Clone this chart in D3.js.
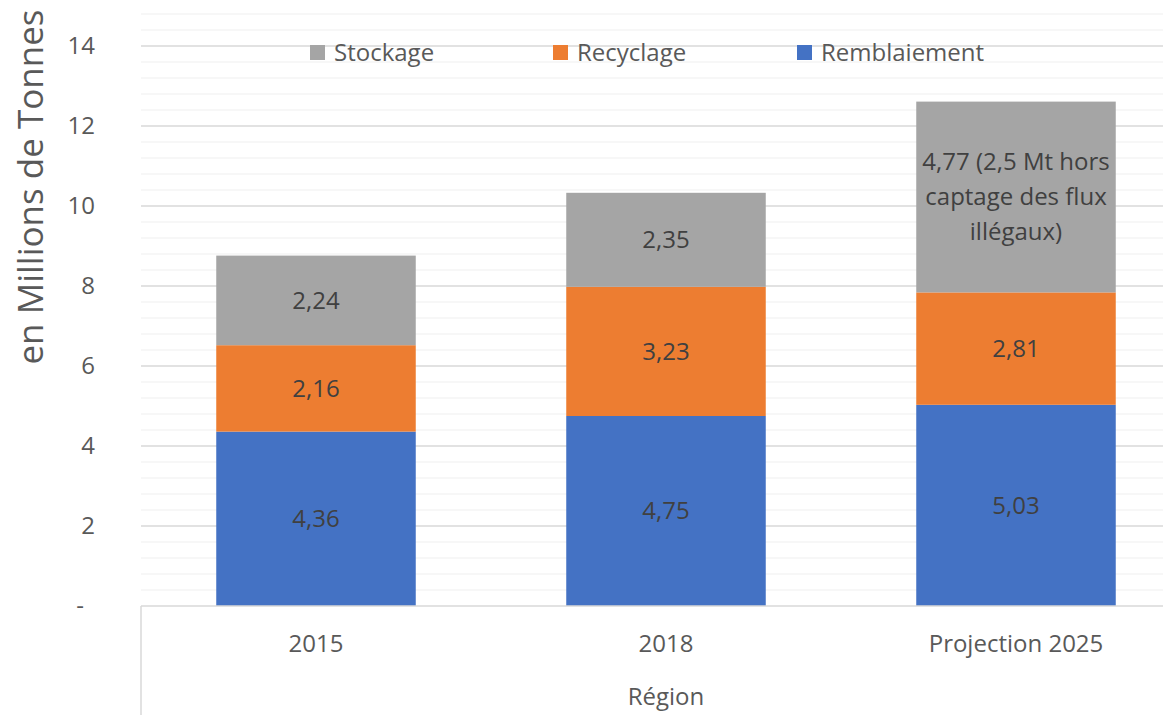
<!DOCTYPE html>
<html>
<head>
<meta charset="utf-8">
<script src="https://cdn.jsdelivr.net/npm/d3@7"></script>
<style>
  body { margin: 0; background: #fff; }
  svg { display: block; font-family: "Open Sans", Lato, sans-serif; }
</style>
</head>
<body>
<div id="chart"></div>
<script>
const categories = ["2015", "2018", "Projection 2025"];
const series = ["Remblaiement", "Recyclage", "Stockage"];
const remblaiement = [4.36, 4.75, 5.03];
const recyclage = [2.16, 3.23, 2.81];
const stockage = [2.24, 2.35, 4.77];
const stockageLabels = [["2,24"], ["2,35"], ["4,77 (2,5 Mt hors", "captage des flux", "illégaux)"]];
const yTicks = [0, 2, 4, 6, 8, 10, 12, 14];
const legendOrder = ["Stockage", "Recyclage", "Remblaiement"];
const colors = {Remblaiement: "#4472C4", Recyclage: "#ED7D31", Stockage: "#A5A5A5"};

const W = 1163, H = 715;
const margin = {left: 141, top: 10, bottom: 109};
const plotRight = 141 + 3 * 350;
const fs = 24;

const svg = d3.select("#chart").append("svg")
  .attr("width", W)
  .attr("height", H);

const y = d3.scaleLinear()
  .domain([0, 14])
  .range([H - margin.bottom, H - margin.bottom - 14 * 40]);

const x = d3.scaleBand()
  .domain(categories)
  .range([margin.left, plotRight])
  .paddingInner(0.43)
  .paddingOuter(0.215);

// minor + major gridlines
const minor = d3.range(0.4, 14.81, 0.4).filter(v => Math.abs(v / 2 - Math.round(v / 2)) > 1e-6);
svg.append("g").selectAll("line")
  .data(minor)
  .enter().append("line")
  .attr("x1", margin.left).attr("x2", plotRight)
  .attr("y1", d => y(d)).attr("y2", d => y(d))
  .attr("stroke", "#EFEFEF").attr("stroke-width", 1.2);

svg.append("g").selectAll("line")
  .data(yTicks.filter(d => d > 0))
  .enter().append("line")
  .attr("x1", margin.left).attr("x2", plotRight)
  .attr("y1", d => y(d)).attr("y2", d => y(d))
  .attr("stroke", "#D9D9D9").attr("stroke-width", 1.4);

// stacked bars
const rows = categories.map((c, i) => ({cat: c, Remblaiement: remblaiement[i], Recyclage: recyclage[i], Stockage: stockage[i]}));
const stacked = d3.stack().keys(series)(rows);

svg.append("g").selectAll("g")
  .data(stacked)
  .enter().append("g")
  .attr("fill", d => colors[d.key])
  .selectAll("rect")
  .data(d => d)
  .enter().append("rect")
  .attr("x", d => x(d.data.cat))
  .attr("width", x.bandwidth())
  .attr("y", d => y(d[1]))
  .attr("height", d => y(d[0]) - y(d[1]));

// value labels
const fmt = v => String(v).replace(".", ",");
stacked.forEach(layer => {
  layer.forEach((d, i) => {
    const cx = x(d.data.cat) + x.bandwidth() / 2;
    const cy = (y(d[0]) + y(d[1])) / 2;
    const lines = layer.key === "Stockage" ? stockageLabels[i] : [fmt(d.data[layer.key])];
    const t = svg.append("text")
      .attr("text-anchor", "middle")
      .attr("fill", "#404040")
      .attr("font-size", fs);
    lines.forEach((ln, j) => {
      t.append("tspan")
        .attr("x", cx)
        .attr("y", cy + (j - (lines.length - 1) / 2) * 35)
        .attr("dy", "0.35em")
        .text(ln);
    });
  });
});

// axis lines
svg.append("line")
  .attr("x1", margin.left).attr("x2", plotRight)
  .attr("y1", y(0)).attr("y2", y(0))
  .attr("stroke", "#D9D9D9").attr("stroke-width", 1.5);
svg.append("line")
  .attr("x1", margin.left).attr("x2", margin.left)
  .attr("y1", y(0)).attr("y2", H)
  .attr("stroke", "#D9D9D9").attr("stroke-width", 1.5);

// y tick labels
svg.append("g").selectAll("text")
  .data(yTicks)
  .enter().append("text")
  .attr("x", d => d === 0 ? 84 : 95)
  .attr("y", d => y(d))
  .attr("dy", "0.35em")
  .attr("text-anchor", "end")
  .attr("fill", "#595959")
  .attr("font-size", fs)
  .text(d => d === 0 ? "-" : d);

// x tick labels
svg.append("g").selectAll("text")
  .data(categories)
  .enter().append("text")
  .attr("x", d => x(d) + x.bandwidth() / 2)
  .attr("y", 644)
  .attr("dy", "0.35em")
  .attr("text-anchor", "middle")
  .attr("fill", "#595959")
  .attr("font-size", fs)
  .text(d => d);

svg.append("text")
  .attr("x", x("2018") + x.bandwidth() / 2)
  .attr("y", 697)
  .attr("dy", "0.35em")
  .attr("text-anchor", "middle")
  .attr("fill", "#595959")
  .attr("font-size", fs)
  .text("Région");

// y axis title
svg.append("text")
  .attr("transform", "translate(31,187) rotate(-90)")
  .attr("text-anchor", "middle")
  .attr("dy", "0.35em")
  .attr("fill", "#595959")
  .attr("font-size", 35)
  .text("en Millions de Tonnes");

// legend
const legendX = {Stockage: 310, Recyclage: 553, Remblaiement: 797};
const lg = svg.append("g").selectAll("g")
  .data(legendOrder)
  .enter().append("g")
  .attr("transform", d => "translate(" + legendX[d] + ",53)");
lg.append("rect")
  .attr("x", 0).attr("y", -8)
  .attr("width", 15).attr("height", 15)
  .attr("fill", d => colors[d]);
lg.append("text")
  .attr("x", 24)
  .attr("dy", "0.35em")
  .attr("fill", "#595959")
  .attr("font-size", fs)
  .text(d => d);
</script>
</body>
</html>
